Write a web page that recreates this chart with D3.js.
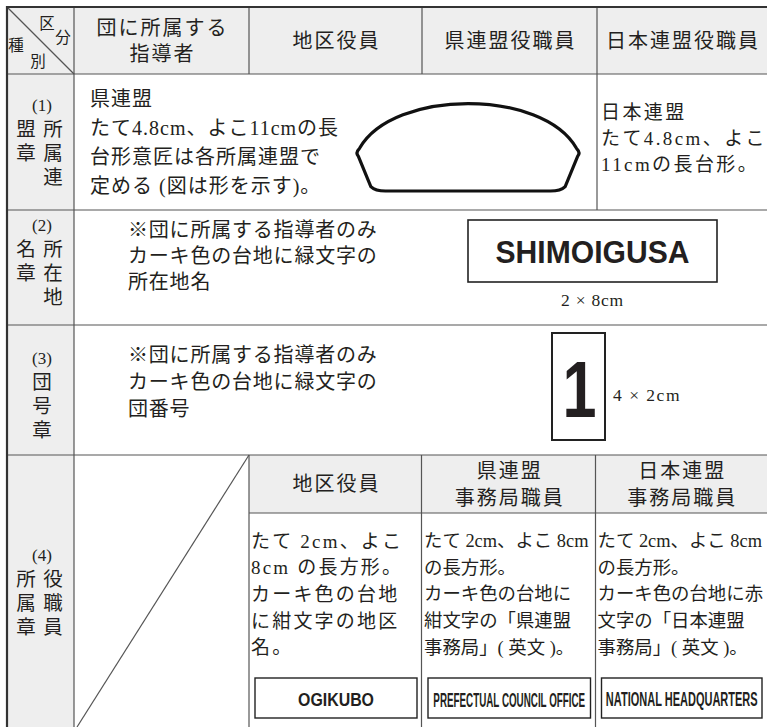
<!DOCTYPE html>
<html><head><meta charset="utf-8">
<script src="https://cdn.jsdelivr.net/npm/d3@7"></script>
<style>body{margin:0;background:#fff}svg{display:block}</style></head>
<body><svg id="c" width="767" height="727"></svg>
<script>
// ---------- data ----------
const headerCols = [["団に所属する","指導者"],["地区役員"],["県連盟役職員"],["日本連盟役職員"]];
const cornerChars = ["区","分","種","別"];
const rowNums = ["(1)","(2)","(3)","(4)"];
const rowLabelCols = [["盟章","所属連"],["名章","所在地"],["団号章"],["所属章","役職員"]];
const row1Left = ["県連盟","たて4.8cm、よこ11cmの長","台形意匠は各所属連盟で","定める (図は形を示す)。"];
const row1Right = ["日本連盟","たて4.8cm、よこ","11cmの長台形。"];
const row2Text = ["※団に所属する指導者のみ","カーキ色の台地に緑文字の","所在地名"];
const row2Badge = "SHIMOIGUSA";
const row2Size = "2 × 8cm";
const row3Text = ["※団に所属する指導者のみ","カーキ色の台地に緑文字の","団番号"];
const row3Badge = "1";
const row3Size = "4 × 2cm";
const subHeaders = [["地区役員"],["県連盟","事務局職員"],["日本連盟","事務局職員"]];
const subTexts = [
  ["たて 2cm、よこ","8cm の長方形。","カーキ色の台地","に紺文字の地区","名。"],
  ["たて 2cm、よこ 8cm","の長方形。","カーキ色の台地に","紺文字の「県連盟","事務局」( 英文 )。"],
  ["たて 2cm、よこ 8cm","の長方形。","カーキ色の台地に赤","文字の「日本連盟","事務局」( 英文 )。"]
];
const subBadges = ["OGIKUBO","PREFECTUAL COUNCIL OFFICE","NATIONAL HEADQUARTERS"];

// ---------- layout ----------
const colKeys = ["c0","c1","c2","c3","c4","c5"];
const rowKeys = ["r0","r1","r2","r3","r4","r5"];
const X = d3.scaleOrdinal().domain(colKeys).range([7,74,249,422,597,767]);
const Y = d3.scaleOrdinal().domain(rowKeys).range([7,74,210,325,455,727]);
const subHeadBottom = 513;

const JP = "'Liberation Serif','Noto Sans CJK JP',serif";
const INK = "#231f20", LINE = "#555", GRAY = "#eeeeee";
const svg = d3.select("#c");

// fills
svg.append("rect").attr("x",X("c0")).attr("y",Y("r0")).attr("width",X("c5")-X("c0")).attr("height",Y("r1")-Y("r0")).attr("fill",GRAY);
svg.append("rect").attr("x",X("c0")).attr("y",Y("r0")).attr("width",X("c1")-X("c0")).attr("height",Y("r5")-Y("r0")).attr("fill",GRAY);
svg.append("rect").attr("x",X("c2")).attr("y",Y("r4")).attr("width",X("c5")-X("c2")).attr("height",subHeadBottom-Y("r4")).attr("fill",GRAY);

// lines
const segs = [];
["r1","r2","r3","r4"].forEach(r=>segs.push([X("c0"),Y(r),X("c5"),Y(r)]));
segs.push([X("c1"),Y("r0"),X("c1"),Y("r5")]);
segs.push([X("c2"),Y("r0"),X("c2"),Y("r1")]);
segs.push([X("c3"),Y("r0"),X("c3"),Y("r1")]);
segs.push([X("c4"),Y("r0"),X("c4"),Y("r2")]);
segs.push([X("c2"),Y("r4"),X("c2"),Y("r5")]);
segs.push([X("c3")-0.5,Y("r4"),X("c3")-0.5,Y("r5")]);
segs.push([X("c4")-1.5,Y("r4"),X("c4")-1.5,Y("r5")]);
segs.push([X("c2"),subHeadBottom,X("c5"),subHeadBottom]);
segs.push([X("c0"),Y("r0"),X("c1"),Y("r1")]);
segs.push([X("c1")+3,Y("r5"),X("c2"),Y("r4")]);
svg.selectAll("line.g").data(segs).join("line")
  .attr("x1",d=>d[0]).attr("y1",d=>d[1]).attr("x2",d=>d[2]).attr("y2",d=>d[3])
  .attr("stroke",LINE).attr("stroke-width",1.2);
// outer border
svg.append("line").attr("x1",X("c0")-1).attr("y1",Y("r0")).attr("x2",X("c5")).attr("y2",Y("r0")).attr("stroke","#333").attr("stroke-width",2.2);
svg.append("line").attr("x1",X("c0")).attr("y1",Y("r0")-1).attr("x2",X("c0")).attr("y2",Y("r5")).attr("stroke","#333").attr("stroke-width",2.2);

function txt(x,y,s,size,anchor,extra){
  const t = svg.append("text").attr("x",x).attr("y",y).text(s)
    .attr("font-family",JP).attr("font-size",size).attr("fill",INK)
    .attr("text-anchor",anchor||"start").attr("dominant-baseline","central");
  if(extra) extra(t);
  return t;
}
function lines(arr,x,y0,dy,size,anchor,ls){
  arr.forEach((s,i)=>txt(x,y0+i*dy,s,size,anchor,t=>{ if(ls) t.attr("letter-spacing",ls); }));
}
// condensed bold badge text: natural text scaled horizontally to the wanted width
function badgeText(cx,cy,s,size,width){
  const g = svg.append("g").attr("transform",`translate(${cx},${cy})`);
  const t = g.append("text").attr("x",0).attr("y",0).text(s)
    .attr("font-family","'Liberation Sans',Arial,sans-serif").attr("font-weight","bold")
    .attr("font-size",size).attr("fill",INK).attr("text-anchor","middle").attr("dominant-baseline","central");
  const w0 = t.node().getComputedTextLength();
  t.attr("transform",`scale(${width/w0},1)`);
  return t;
}

// corner cell
const cx0 = X("c0");
txt(cx0+40,Y("r0")+16,cornerChars[0],15.5,"middle");
txt(cx0+56,Y("r0")+30,cornerChars[1],15.5,"middle");
txt(cx0+9,Y("r0")+38,cornerChars[2],15.5,"middle");
txt(cx0+31,Y("r0")+54,cornerChars[3],15.5,"middle");

// header columns
["c1","c2","c3","c4"].forEach((c,i)=>{
  const mid = (X(c)+X(colKeys[i+2]))/2 + 1;
  const hl = headerCols[i];
  const yc = (Y("r0")+Y("r1"))/2;
  lines(hl, mid, yc-(hl.length-1)*13, 26, 20, "middle", 2);
});

// row labels
const labelTop = [105,225,358,555];
rowNums.forEach((n,i)=>{
  const r = rowKeys[i+1];
  const base = Y(r) + (labelTop[i]-[74,210,325,455][i]);
  txt(X("c0")+35,base,n,17,"middle");
  const cols = rowLabelCols[i];
  const xs = cols.length===2 ? [X("c0")+19,X("c0")+46] : [X("c0")+35];
  cols.forEach((col,ci)=>{
    Array.from(col).forEach((ch,k)=>txt(xs[ci],base+24+k*24,ch,19.5,"middle"));
  });
});

// row 1
lines(row1Left, X("c1")+16, Y("r1")+25, 29, 20, "start", 1.0);
lines(row1Right, X("c4")+4, Y("r1")+38, 26, 19, "start", 2.4);
// emblem outline (shape in unit box, scaled to cell area)
const ex = d3.scaleLinear().domain([0,1]).range([355,581]);
const ey = d3.scaleLinear().domain([0,1]).range([Y("r1")+28,Y("r1")+117]);
const p = d3.path();
p.moveTo(ex(0.02),ey(0.52));
p.bezierCurveTo(ex(0.17),ey(-0.15),ex(0.83),ey(-0.15),ex(0.98),ey(0.52));
p.quadraticCurveTo(ex(1.0),ey(0.57),ex(0.985),ey(0.61));
p.lineTo(ex(0.93),ey(0.95));
p.quadraticCurveTo(ex(0.91),ey(1.0),ex(0.865),ey(1.0));
p.lineTo(ex(0.135),ey(1.0));
p.quadraticCurveTo(ex(0.09),ey(1.0),ex(0.07),ey(0.95));
p.lineTo(ex(0.015),ey(0.61));
p.quadraticCurveTo(ex(0.0),ey(0.57),ex(0.02),ey(0.52));
p.closePath();
svg.append("path").attr("d",p.toString()).attr("fill","none").attr("stroke","#111").attr("stroke-width",3.2);

// row 2
lines(row2Text, X("c1")+54, Y("r2")+20, 26, 20, "start", 0.8);
const b2 = {x0:468,x1:717,y0:Y("r2")+10,y1:Y("r2")+72};
svg.append("rect").attr("x",b2.x0).attr("y",b2.y0).attr("width",b2.x1-b2.x0).attr("height",b2.y1-b2.y0)
  .attr("fill","none").attr("stroke","#222").attr("stroke-width",1.6);
badgeText((b2.x0+b2.x1)/2,(b2.y0+b2.y1)/2+1,row2Badge,32,194);
txt((b2.x0+b2.x1)/2,b2.y1+18,row2Size,17.5,"middle", t=>t.attr("letter-spacing",0.8));

// row 3
lines(row3Text, X("c1")+54, Y("r3")+30, 27, 20, "start", 0.8);
const b3 = {x0:552,x1:605,y0:Y("r3")+8,y1:Y("r3")+115};
svg.append("rect").attr("x",b3.x0).attr("y",b3.y0).attr("width",b3.x1-b3.x0).attr("height",b3.y1-b3.y0)
  .attr("fill","none").attr("stroke","#222").attr("stroke-width",2);
badgeText((b3.x0+b3.x1)/2+1,(b3.y0+b3.y1)/2+3,row3Badge,80,34);
txt(b3.x1+8,(b3.y0+b3.y1)/2+8,row3Size,17.5,"start", t=>t.attr("letter-spacing",1.5));

// row 4
const subCols = [[X("c2"),X("c3")],[X("c3"),X("c4")-1.5],[X("c4")-1.5,X("c5")]];
const subLs = [2.2,0,0];
const subSize = [19,18.4,18.4];
subCols.forEach((sc,i)=>{
  const mid = (sc[0]+sc[1])/2 + 1;
  const hl = subHeaders[i];
  const yc = (Y("r4")+subHeadBottom)/2;
  lines(hl, mid, yc-(hl.length-1)*13.5, 27, 20, "middle", 2);
  lines(subTexts[i], sc[0]+2, 541, 26.7, subSize[i], "start", subLs[i]);
  const bx0 = sc[0]+6, bx1 = sc[1]-5, by0 = 678, by1 = 718;
  svg.append("rect").attr("x",bx0).attr("y",by0).attr("width",bx1-bx0).attr("height",by1-by0)
    .attr("fill","none").attr("stroke","#222").attr("stroke-width",1.4);
  badgeText((bx0+bx1)/2,(by0+by1)/2+1,subBadges[i],i===0?19:21,[76,152,152][i]);
});
</script></body></html>
